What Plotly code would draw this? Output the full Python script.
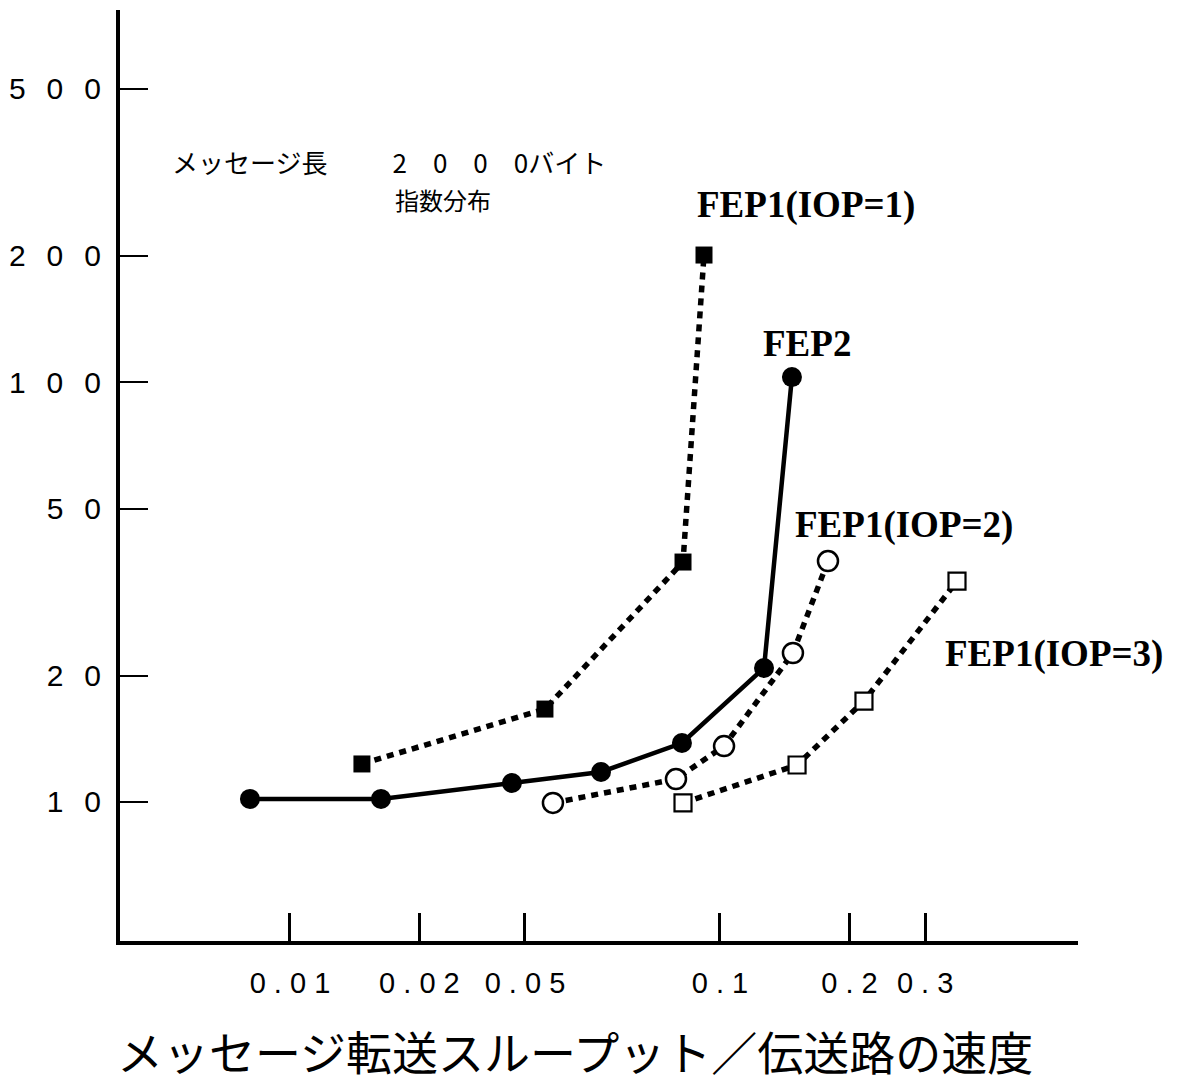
import plotly.graph_objects as go

# ---- data ----
fep2_x = [0.00807, 0.01628, 0.03282, 0.05288, 0.08157, 0.1266, 0.1470]
fep2_y = [10.17, 10.17, 11.10, 11.79, 13.82, 20.86, 102.9]

iop1_x = [0.01470, 0.03917, 0.08204, 0.09180]
iop1_y = [12.32, 16.65, 37.3, 201.0]

iop2_x = [0.04088, 0.07901, 0.1022, 0.1478, 0.1783]
iop2_y = [9.95, 11.34, 13.59, 22.65, 37.5]

iop3_x = [0.08204, 0.1511, 0.2162, 0.3558]
iop3_y = [9.95, 12.25, 17.40, 33.6]

# axis ticks as drawn on the original figure
x_tick_vals = [0.01, 0.02, 0.0352, 0.1, 0.2, 0.3]
x_tick_text = ["0 . 0 1", "0 . 0 2", "0 . 0 5", "0 . 1", "0 . 2", "0 . 3"]
y_tick_vals = [10, 20, 50, 100, 200, 500]
y_sep = "\u2002\u2009"
y_tick_text = [y_sep.join(s) for s in ["10", "20", "50", "100", "200", "500"]]

series_names = ["FEP2", "FEP1(IOP=1)", "FEP1(IOP=2)", "FEP1(IOP=3)"]

fig = go.Figure()

dotted = "7px,6px"

fig.add_trace(go.Scatter(
    x=fep2_x, y=fep2_y, mode="lines+markers", name=series_names[0],
    line=dict(color="black", width=4.5),
    marker=dict(symbol="circle", size=20, color="black"),
))
fig.add_trace(go.Scatter(
    x=iop1_x, y=iop1_y, mode="lines+markers", name=series_names[1],
    line=dict(color="black", width=5.5, dash=dotted),
    marker=dict(symbol="square", size=17, color="black"),
))
fig.add_trace(go.Scatter(
    x=iop2_x, y=iop2_y, mode="lines+markers", name=series_names[2],
    line=dict(color="black", width=5.5, dash=dotted),
    marker=dict(symbol="circle", size=20, color="white",
                line=dict(color="black", width=2.5)),
))
fig.add_trace(go.Scatter(
    x=iop3_x, y=iop3_y, mode="lines+markers", name=series_names[3],
    line=dict(color="black", width=5.5, dash=dotted),
    marker=dict(symbol="square", size=17, color="white",
                line=dict(color="black", width=2.2)),
))

L, R, T, B = 120, 99, 10, 148
W, H = 1177, 1089
pw, ph = W - L - R, H - T - B


def px(xp):
    return (xp - L) / pw


def py(yp):
    return (H - B - yp) / ph


label_font = dict(family="Liberation Serif", size=37, color="black")
cjk = "Noto Sans CJK JP"
anns = [
    dict(text="<b>FEP1(IOP=1)</b>", x=px(695), y=py(205), xanchor="left", yanchor="middle", font=label_font),
    dict(text="<b>FEP2</b>", x=px(761), y=py(343), xanchor="left", yanchor="middle", font=label_font),
    dict(text="<b>FEP1(IOP=2)</b>", x=px(793), y=py(525), xanchor="left", yanchor="middle", font=label_font),
    dict(text="<b>FEP1(IOP=3)</b>", x=px(943), y=py(654), xanchor="left", yanchor="middle", font=label_font),
    dict(text="メッセージ長\u3000\u3000\u20022\u20030\u20030\u20030バイト", x=px(171), y=py(161),
         xanchor="left", yanchor="middle", borderpad=0,
         font=dict(family=cjk, size=26, color="black")),
    dict(text="指数分布", x=px(394), y=py(199), xanchor="left", yanchor="middle", borderpad=0,
         font=dict(family=cjk, size=24, color="black")),
    dict(text="メッセージ転送スループット／伝送路の速度", x=px(575), y=py(1050),
         xanchor="center", yanchor="middle",
         font=dict(family=cjk, size=46, color="black")),
]
for a in anns:
    a.update(xref="paper", yref="paper", showarrow=False)

fig.update_layout(
    width=W, height=H,
    margin=dict(l=L, r=R, t=T, b=B, pad=0, autoexpand=False),
    paper_bgcolor="white", plot_bgcolor="white",
    showlegend=False,
    annotations=anns,
    xaxis=dict(
        type="log", range=[-2.3953, -0.1674], automargin=False,
        showgrid=False, zeroline=False,
        showline=True, linecolor="black", linewidth=4,
        ticks="inside", ticklen=28, tickwidth=2.5, tickcolor="black",
        tickvals=x_tick_vals, ticktext=x_tick_text,
        tickfont=dict(family="Liberation Sans", size=29, color="black"),
        ticklabelstandoff=13,
    ),
    yaxis=dict(
        type="log", range=[0.6688, 2.887], automargin=False,
        showgrid=False, zeroline=False,
        showline=True, linecolor="black", linewidth=4,
        ticks="inside", ticklen=28, tickwidth=2, tickcolor="black",
        tickvals=y_tick_vals, ticktext=y_tick_text,
        tickfont=dict(family="Liberation Sans", size=30, color="black"),
        ticklabelstandoff=9,
    ),
)

fig.write_html("out.html")
